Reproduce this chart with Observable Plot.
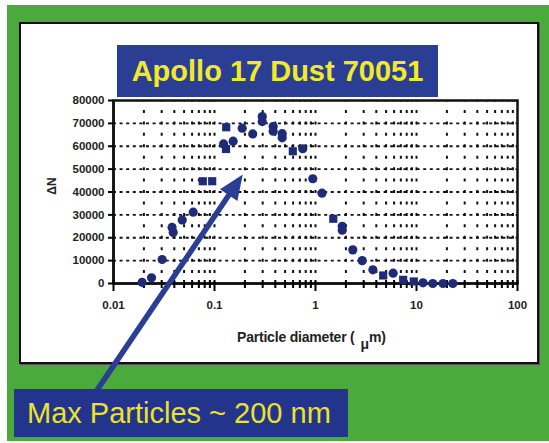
<!DOCTYPE html>
<html>
<head>
<meta charset="utf-8">
<script src="https://cdn.jsdelivr.net/npm/d3@7"></script>
<script src="https://cdn.jsdelivr.net/npm/@observablehq/plot@0.6"></script>
<style>
  html, body { margin: 0; padding: 0; background: #fff; }
  #wrap { position: relative; width: 549px; height: 443px; overflow: hidden; background: #fff; font-family: "Liberation Sans", Arial, sans-serif; }
  #green { position: absolute; left: 7px; top: 5px; width: 542px; height: 436px; background: #4aaa3c; }
  #panel { position: absolute; left: 19px; top: 22px; width: 516px; height: 338px; background: #fff; border: 2px solid #111; box-shadow: 1px 1px 0 #555; }
  #chart { position: absolute; left: 0; top: 0; }
  #chart svg { background: transparent; }
  #chart svg text { font-weight: bold; fill: #222; }
  #title { position: absolute; left: 117px; top: 45px; width: 321px; height: 52px; background: #2a3f94; color: #f3e92b; font-weight: bold; font-size: 29px; line-height: 52px; text-align: center; white-space: nowrap; }
  #note { position: absolute; left: 14px; top: 389px; width: 334px; height: 48px; background: #22348c; color: #ece22a; font-size: 29px; line-height: 48px; padding-left: 13px; box-sizing: border-box; white-space: nowrap; }
  #ylab { position: absolute; left: 52px; top: 186px; transform: translate(-50%, -50%) rotate(-90deg); font-weight: bold; font-size: 12px; color: #222; white-space: nowrap; }
  #xlab { position: absolute; left: 237px; top: 329px; font-weight: bold; font-size: 14px; color: #222; white-space: nowrap; letter-spacing: -0.2px; }
  #xlab .mu { position: relative; top: 7px; margin-left: 6px; }
</style>
</head>
<body>
<div id="wrap">
  <div id="green"></div>
  <div id="panel"></div>
  <div id="chart"></div>
  <div id="ylab">ΔN</div>
  <div id="xlab">Particle diameter (<span class="mu">μ</span>m)</div>
  <div id="title">Apollo 17 Dust 70051</div>
  <div id="note">Max Particles ~ 200 nm</div>
</div>
<script>
// Data (particle diameter in µm, ΔN)
const circleDiameter = [0.0192, 0.0238, 0.0303, 0.0380, 0.0390, 0.0479, 0.0615, 0.123, 0.153, 0.188, 0.239, 0.297, 0.297, 0.381, 0.381, 0.468, 0.468, 0.748, 0.94, 1.16, 1.84, 1.84, 2.34, 2.90, 3.70, 5.87, 11.6, 14.5, 18.3, 22.9];
const circleCount    = [500,    2500,   10500,  24500,  22300,  27800,  31200,  61000, 62200, 67900, 65400, 73000, 70800, 68600, 66600, 65500, 63700, 58900, 45800, 39500, 25000, 23300, 14700, 10000, 6000, 4500, 300, 0, 0, 0];
const squareDiameter = [0.0766, 0.0949, 0.1306, 0.130, 0.596, 1.50, 4.68, 7.38, 9.40];
const squareCount    = [44700,  44700,  68300,  58800, 57800, 28300, 3500, 1600, 900];

const xTickLabels = [0.01, 0.1, 1, 10, 100];
const yTicks = [0, 10000, 20000, 30000, 40000, 50000, 60000, 70000, 80000];
const yGrid = [10000, 20000, 30000, 40000, 50000, 60000, 70000];

// annotation arrow (data coordinates: tail below the axis, tip at the peak region)
const arrowFrom = {d: 0.0069, n: -46500};
const arrowTo = {d: 0.1905, n: 47650};

const circles = circleDiameter.map((d, i) => ({d, n: circleCount[i]}));
const squares = squareDiameter.map((d, i) => ({d, n: squareCount[i]}));
const allTicks = d3.scaleLog().domain([0.01, 100]).ticks();
const minorTicks = allTicks.filter(t => !xTickLabels.includes(+t.toPrecision(6)));
const gridX = allTicks.filter(t => t > 0.0101 && t < 99);

const navy = "#1e2b78";
const arrowBlue = "#2a3f94";

const headSymbol = {
  draw(context) {
    context.moveTo(0, 0);
    context.lineTo(-10.5, 25);
    context.lineTo(10.5, 25);
    context.closePath();
  }
};

const chart = Plot.plot({
  width: 549,
  height: 443,
  marginLeft: 113,
  marginRight: 32,
  marginTop: 100,
  marginBottom: 160,
  style: {background: "transparent", fontFamily: "'Liberation Sans', Arial, sans-serif", fontSize: "11.5px", overflow: "visible"},
  x: {type: "log", domain: [0.01, 100]},
  y: {domain: [0, 80000]},
  marks: [
    Plot.ruleX(gridX, {stroke: "#111", strokeWidth: 2, strokeDasharray: "3,8.44", strokeDashoffset: 1.5}),
    Plot.ruleY(yGrid, {stroke: "#111", strokeWidth: 1.8, strokeDasharray: "3,3.6"}),
    Plot.frame({stroke: "#111", strokeWidth: 2.5}),
    Plot.ruleY([0], {stroke: "#111", strokeWidth: 2.5}),
    Plot.ruleX([0.01], {stroke: "#111", strokeWidth: 2.5}),
    Plot.axisY({ticks: yTicks, tickSize: 5, tickPadding: 4, strokeWidth: 2, tickFormat: d3.format("d"), label: null, fontWeight: "bold"}),
    Plot.axisX({ticks: xTickLabels, tickSize: 11, dy: -3, strokeWidth: 2, text: null, label: null}),
    Plot.axisX({ticks: minorTicks, tickSize: 8, dy: -3, strokeWidth: 2, text: null, label: null}),
    Plot.axisX({ticks: xTickLabels, tickSize: 0, tickPadding: 17, tickFormat: d => String(d), label: null, fontWeight: "bold"}),
    Plot.dot(circles, {x: "d", y: "n", r: 4.6, symbol: "circle", fill: navy, stroke: null}),
    Plot.dot(squares, {x: "d", y: "n", r: 4.6, symbol: "square", fill: navy, stroke: null}),
    Plot.arrow([{x1: arrowFrom.d, y1: arrowFrom.n, x2: arrowTo.d, y2: arrowTo.n}], {x1: "x1", y1: "y1", x2: "x2", y2: "y2", stroke: arrowBlue, strokeWidth: 5.5, headLength: 0, insetEnd: 10, clip: false}),
    Plot.dot([arrowTo], {x: "d", y: "n", symbol: headSymbol, r: 10, rotate: 34.2, fill: arrowBlue, stroke: null})
  ]
});
document.getElementById("chart").appendChild(chart);
</script>
</body>
</html>
